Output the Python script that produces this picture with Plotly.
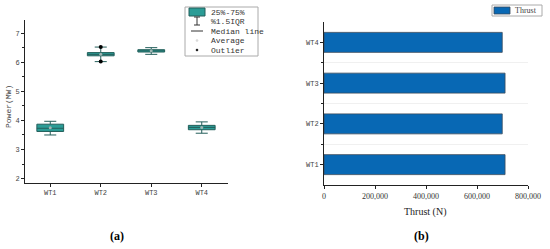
import plotly.graph_objects as go

turbines = ["WT1", "WT2", "WT3", "WT4"]
# Power box statistics (MW)
power_q1 = [3.62, 6.22, 6.35, 3.68]
power_median = [3.73, 6.27, 6.39, 3.76]
power_q3 = [3.87, 6.33, 6.43, 3.83]
power_lower = [3.50, 6.02, 6.27, 3.56]
power_upper = [3.97, 6.52, 6.50, 3.95]
power_mean = [3.75, 6.27, 6.39, 3.76]
outlier_turbine = [1, 1]
outlier_power = [6.02, 6.52]
power_ticks = [2, 3, 4, 5, 6, 7]
# Thrust (N)
thrust = [710000, 699000, 710000, 699000]
thrust_ticks = [0, 200000, 400000, 600000, 800000]

W, H = 550, 249
def px(x): return x / W
def py(y): return (H - y) / H

TEAL = "#2b9c96"
TEAL_LINE = "#245f5b"
BLUE = "#0868b4"
mono = "Liberation Mono"
serif = "Liberation Serif"

idx = list(range(len(turbines)))
fig = go.Figure()
fig.add_trace(go.Box(
    x=idx, q1=power_q1, median=power_median, q3=power_q3,
    lowerfence=power_lower, upperfence=power_upper,
    fillcolor=TEAL, line=dict(color=TEAL_LINE, width=1),
    width=0.53, whiskerwidth=0.45, boxpoints=False,
    xaxis="x", yaxis="y", showlegend=False, hoverinfo="skip"))
fig.add_trace(go.Scatter(
    x=idx, y=power_mean, mode="markers",
    marker=dict(color="#9fb5b3", size=3), xaxis="x", yaxis="y", showlegend=False))
fig.add_trace(go.Scatter(
    x=outlier_turbine, y=outlier_power, mode="markers",
    marker=dict(color="black", size=4), xaxis="x", yaxis="y", showlegend=False))

fig.add_trace(go.Bar(
    y=idx, x=thrust, orientation="h", width=0.49,
    marker=dict(color=BLUE, line=dict(color="#3a4a5a", width=0.8)),
    xaxis="x2", yaxis="y2", showlegend=False))

axis_common = dict(showline=True, linecolor="#222", linewidth=1, ticks="outside",
                   ticklen=3, tickcolor="#222", showgrid=False, zeroline=False,
                   automargin=False)

fig.update_layout(
    width=W, height=H, margin=dict(l=0, r=0, t=0, b=0, autoexpand=False),
    paper_bgcolor="white", plot_bgcolor="white", showlegend=False,
    xaxis=dict(domain=[px(25), px(228)], anchor="y", range=[-0.5, 3.52],
               tickvals=idx, ticktext=turbines,
               tickfont=dict(family=mono, size=7, color="#444"), **axis_common),
    yaxis=dict(domain=[py(183), py(20)], anchor="x", range=[1.85, 7.45],
               tickvals=power_ticks, tickfont=dict(family=mono, size=7, color="#444"),
               minor=dict(dtick=0.5, tick0=0, ticks="outside", ticklen=2, tickcolor="#222"),
               **axis_common),
    xaxis2=dict(domain=[px(324), px(528)], anchor="y2", range=[0, 800000],
                tickvals=thrust_ticks, tickformat=",",
                tickfont=dict(family=serif, size=8, color="#333"), **axis_common),
    yaxis2=dict(domain=[py(185), py(22)], anchor="x2", range=[-0.5, 3.5],
                tickvals=idx, ticktext=turbines,
                tickfont=dict(family=mono, size=7, color="#444"),
                minor=dict(tickvals=[0.5, 1.5, 2.5], ticks="outside", ticklen=2,
                           tickcolor="#222", showgrid=True, gridcolor="#f0f0f0", gridwidth=1),
                **axis_common),
)

def ann(text, x, y, size, family, color, xanchor="center", angle=0):
    return dict(text=text, x=px(x), y=py(y), xref="paper", yref="paper",
                xanchor=xanchor, yanchor="middle", textangle=angle, showarrow=False,
                font=dict(family=family, size=size, color=color))

annotations = [
    ann("Power(MW)", 8, 107, 8, mono, "#444", angle=-90),
    ann("Thrust (N)", 425, 212, 10, serif, "#222"),
    ann("<b>(a)</b>", 117, 236, 12, serif, "black"),
    ann("<b>(b)</b>", 421, 236, 12, serif, "black"),
]
shapes = []
# Left legend frame
shapes.append(dict(type="rect", xref="paper", yref="paper", x0=px(185), x1=px(258),
                   y0=py(56), y1=py(7), line=dict(color="#aaa", width=1), fillcolor="white"))
legend_rows = ["25%-75%", "%1.5IQR", "Median line", "Average", "Outlier"]
row_y = [12, 21.5, 31, 40.5, 50]
for lab, yy in zip(legend_rows, row_y):
    annotations.append(ann(lab, 209, yy, 8, mono, "#333", xanchor="left"))
# icons
shapes.append(dict(type="rect", xref="paper", yref="paper", x0=px(189), x1=px(205),
                   y0=py(16), y1=py(8), line=dict(color=TEAL_LINE, width=1), fillcolor=TEAL))
shapes.append(dict(type="line", xref="paper", yref="paper", x0=px(197), x1=px(197),
                   y0=py(25), y1=py(17), line=dict(color="#333", width=1)))
shapes.append(dict(type="line", xref="paper", yref="paper", x0=px(194), x1=px(200),
                   y0=py(25), y1=py(25), line=dict(color="#333", width=1)))
shapes.append(dict(type="line", xref="paper", yref="paper", x0=px(194), x1=px(200),
                   y0=py(17), y1=py(17), line=dict(color="#333", width=1)))
shapes.append(dict(type="line", xref="paper", yref="paper", x0=px(191), x1=px(203),
                   y0=py(31), y1=py(31), line=dict(color="#333", width=1)))
shapes.append(dict(type="circle", xref="paper", yref="paper", x0=px(196), x1=px(198),
                   y0=py(41.5), y1=py(39.5), line=dict(color="#ccc", width=0.5), fillcolor="#ddd"))
shapes.append(dict(type="circle", xref="paper", yref="paper", x0=px(196), x1=px(198),
                   y0=py(51), y1=py(49), line=dict(color="black", width=0.5), fillcolor="black"))
# Right legend
shapes.append(dict(type="rect", xref="paper", yref="paper", x0=px(492), x1=px(542),
                   y0=py(16), y1=py(5), line=dict(color="#aaa", width=1), fillcolor="white"))
shapes.append(dict(type="rect", xref="paper", yref="paper", x0=px(494), x1=px(510),
                   y0=py(14), y1=py(7), line=dict(color="#3a4a5a", width=0.8), fillcolor=BLUE))
annotations.append(ann("Thrust", 513, 10.5, 8, serif, "#444", xanchor="left"))

fig.update_layout(annotations=annotations, shapes=shapes)
fig.write_html("out.html", config={"displayModeBar": False, "staticPlot": True},
               post_script="document.body.style.margin='0';document.body.style.overflow='hidden';")
